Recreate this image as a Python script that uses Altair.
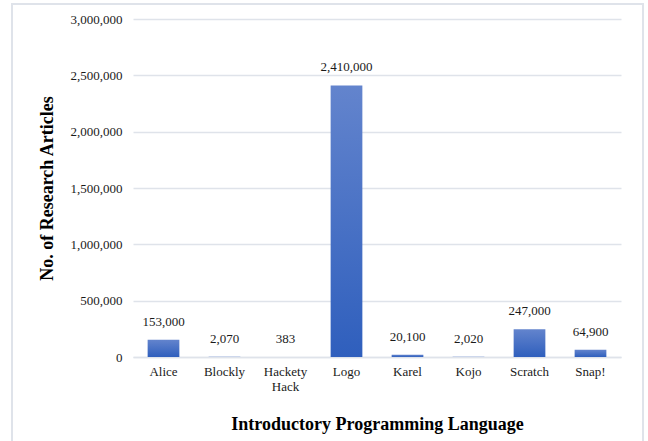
import altair as alt
import pandas as pd

languages = ["Alice", "Blockly", "Hackety Hack", "Logo", "Karel", "Kojo", "Scratch", "Snap!"]
articles = [153000, 2070, 383, 2410000, 20100, 2020, 247000, 64900]

df = pd.DataFrame({"language": languages, "articles": articles})

FONT = "Liberation Serif"
W, H = 488, 338

gradient = alt.Gradient(
    gradient="linear",
    stops=[alt.GradientStop(color="#6384cd", offset=0),
           alt.GradientStop(color="#2f5fbd", offset=1)],
    x1=0, x2=0, y1=0, y2=1,
)

base = alt.Chart(df)

frame = base.mark_rect(fill=None, stroke="#dfe3ea", strokeWidth=2).encode(
    x=alt.value(-121), x2=alt.value(510), y=alt.value(-15), y2=alt.value(500)
).transform_filter("datum.language == 'Alice'")

bars = base.mark_bar(color=gradient).encode(
    x=alt.X("language:N", sort=languages,
            scale=alt.Scale(paddingInner=0.48, paddingOuter=0.24),
            axis=alt.Axis(title="Introductory Programming Language",
                          labelAngle=0, ticks=False, domain=True,
                          domainColor="#dfe3ea", domainWidth=1.5,
                          labelExpr="split(datum.value, ' ')",
                          labelFont=FONT, labelFontSize=13, labelColor="#1a1a1a",
                          labelPadding=8, labelLineHeight=15,
                          titleFont=FONT, titleFontSize=18, titleFontWeight="bold",
                          titleColor="#000000", titlePadding=22)),
    y=alt.Y("articles:Q", scale=alt.Scale(domain=[0, 3000000], nice=False),
            axis=alt.Axis(title="No. of Research Articles", format=",.0f",
                          values=[0, 500000, 1000000, 1500000, 2000000, 2500000, 3000000],
                          ticks=False, domain=False, grid=True,
                          gridColor="#dfe3ea", gridWidth=1.5,
                          labelFont=FONT, labelFontSize=13, labelColor="#1a1a1a",
                          labelPadding=11,
                          titleFont=FONT, titleFontSize=18, titleFontWeight="bold",
                          titleColor="#000000", titlePadding=14)),
)

labels = base.mark_text(font=FONT, fontSize=13, color="#1a1a1a",
                        baseline="bottom", dy=-11).encode(
    x=alt.X("language:N", sort=languages),
    y=alt.Y("articles:Q"),
    text=alt.Text("articles:Q", format=",.0f"),
)

chart = alt.layer(frame, bars, labels).properties(
    width=W, height=H,
    autosize=alt.AutoSizeParams(type="none"),
    padding={"left": 133, "top": 19, "right": 27, "bottom": 84},
    background="white",
).configure_view(stroke=None)

chart.save("out.html", embed_options={"renderer": "svg", "actions": False})
